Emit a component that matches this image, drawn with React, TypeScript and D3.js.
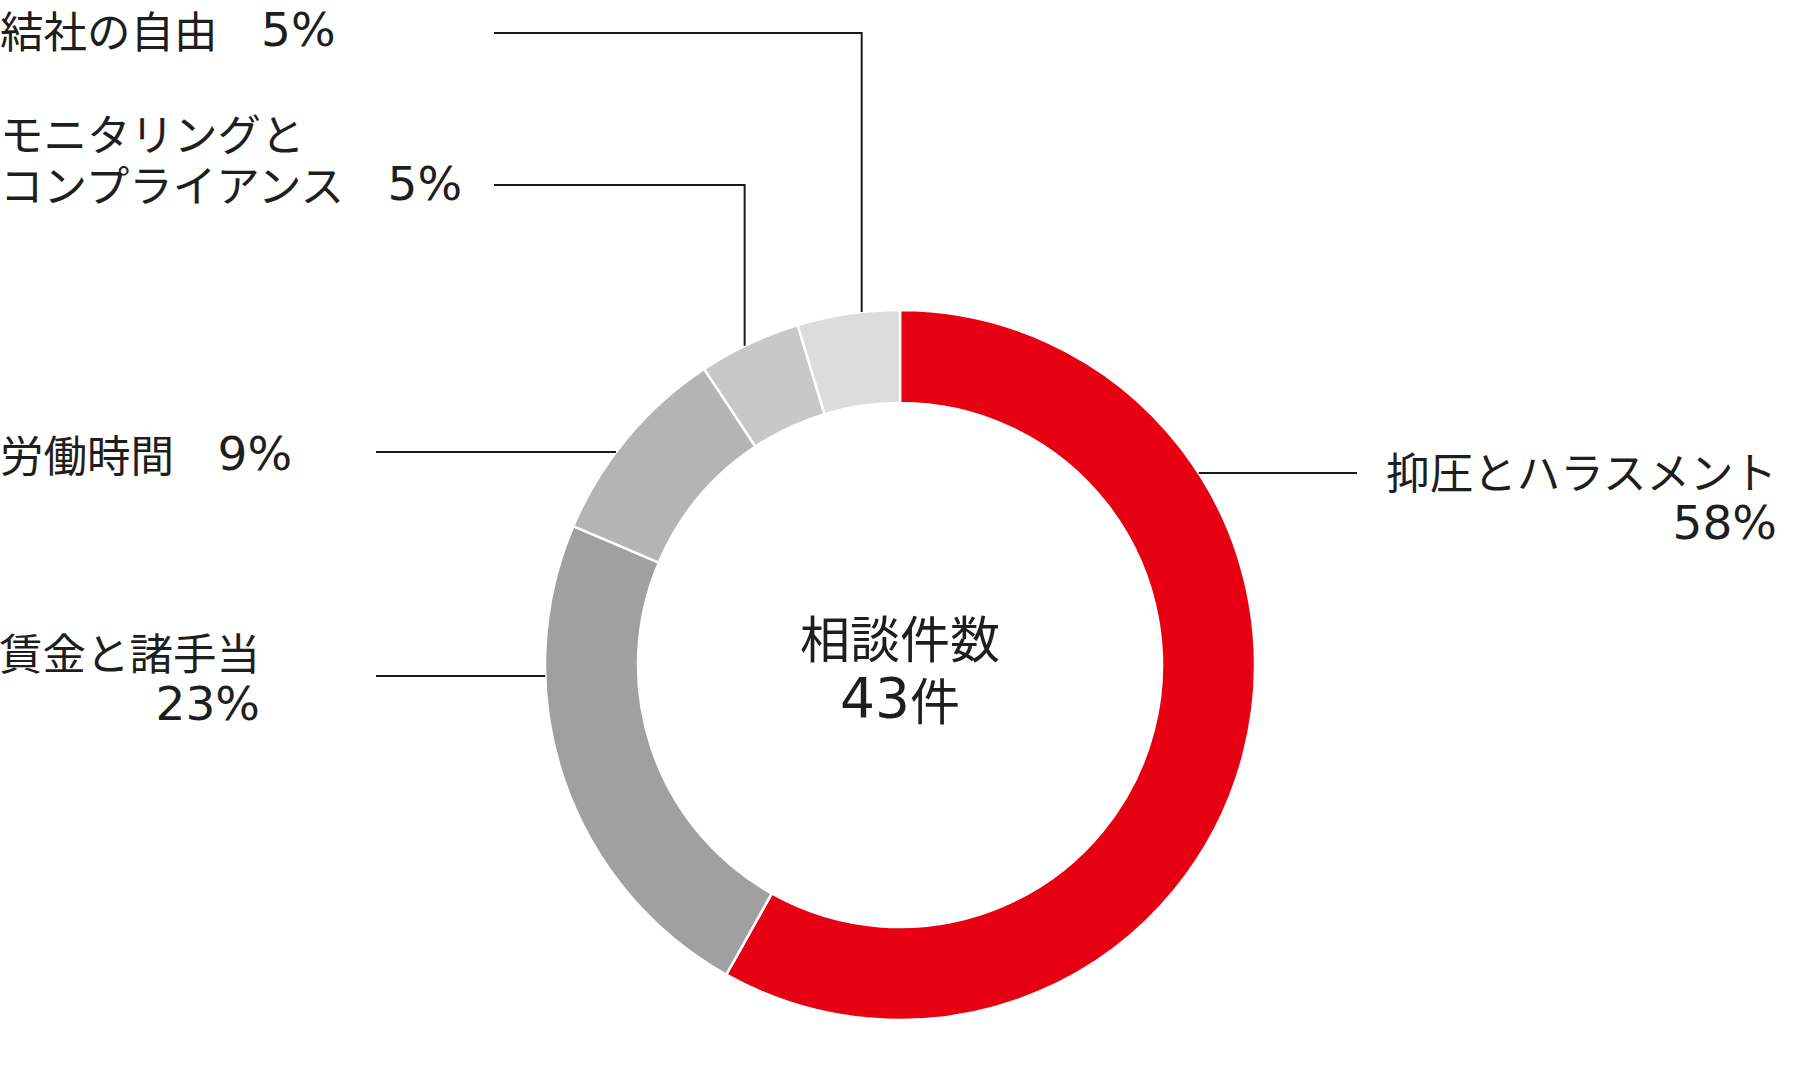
import * as d3 from "d3";
import React from "react";

// 相談件数の内訳（件数）
const categories = ["抑圧とハラスメント", "賃金と諸手当", "労働時間", "モニタリングとコンプライアンス", "結社の自由"];
const counts = [25, 10, 4, 2, 2];
const percents = ["58%", "23%", "9%", "5%", "5%"];
const colors = ["#e60012", "#a0a0a0", "#b4b4b4", "#c8c8c8", "#dcdcdc"];
const centerTitle = "相談件数";
const centerTotal = `${d3.sum(counts)}件`;

const W = 1800;
const H = 1080;
const cx = 900;
const cy = 665;
const outerR = 355;
const innerR = 262;
const fontSize = 43.5;
const font = "'Noto Sans CJK JP', 'Noto Sans', sans-serif";
const numFont = "'DejaVu Sans', sans-serif";
const SP = "\u3000";

type Label = {
  lines: string[];
  x: number;
  ys: number[];
  anchor: "start" | "end";
  lineY: number;
  lineX: number; // free end of the leader
  at?: number; // where along the slice the leader drops onto the ring
};

const labels: Label[] = [
  { lines: [categories[0], percents[0]], x: 1777, ys: [470, 522], anchor: "end", lineY: 473, lineX: 1357 },
  { lines: ["賃金と諸手当", percents[1]], x: 260, ys: [651, 703], anchor: "end", lineY: 676, lineX: 376 },
  { lines: [categories[2] + SP + percents[2]], x: 0, ys: [453], anchor: "start", lineY: 452, lineX: 376 },
  { lines: ["モニタリングと", "コンプライアンス" + SP + percents[3]], x: 0, ys: [132, 183], anchor: "start", lineY: 185, lineX: 494, at: 0.45 },
  { lines: [categories[4] + SP + percents[4]], x: 0, ys: [29], anchor: "start", lineY: 33, lineX: 494, at: 0.63 },
];

// digits and % are set in a wider face, like the original
function richText(t: string, numSize: number) {
  return t.split(/(\d+%?)/).filter(Boolean).map((s, k) =>
    /\d/.test(s) ? (
      <tspan key={k} fontFamily={numFont} fontSize={numSize}>
        {s}
      </tspan>
    ) : (
      <tspan key={k}>{s}</tspan>
    )
  );
}

export default function App() {
  const pie = d3
    .pie<number>()
    .sort(null)
    .startAngle(0)
    .endAngle(2 * Math.PI)
    .value((d) => d);
  const arcs = pie(counts);
  const arc = d3.arc<d3.PieArcDatum<number>>().innerRadius(innerR).outerRadius(outerR);

  const leader = (i: number) => {
    const L = labels[i];
    const a = arcs[i];
    if (L.at !== undefined) {
      const ang = a.startAngle + L.at * (a.endAngle - a.startAngle);
      const ex = cx + outerR * Math.sin(ang);
      const ey = cy - outerR * Math.cos(ang);
      return `M${L.lineX},${L.lineY}H${ex}V${ey}`;
    }
    const dy = L.lineY - cy;
    const dx = Math.sqrt(outerR * outerR - dy * dy);
    const side = L.lineX > cx ? 1 : -1;
    return `M${L.lineX},${L.lineY}H${cx + side * dx}`;
  };

  return (
    <svg
      width={W}
      height={H}
      style={{ position: "absolute", left: 0, top: 0, background: "#fff" }}
      fontFamily={font}
    >
      <g transform={`translate(${cx},${cy})`}>
        {arcs.map((a, i) => (
          <path key={categories[i]} d={arc(a) ?? ""} fill={colors[i]} stroke="#fff" strokeWidth={2.5} />
        ))}
      </g>
      {labels.map((L, i) => (
        <g key={i}>
          <path d={leader(i)} fill="none" stroke="#1a1a1a" strokeWidth={2} />
          {L.lines.map((t, j) => (
            <text
              key={j}
              x={L.x}
              y={L.ys[j]}
              textAnchor={L.anchor}
              dominantBaseline="central"
              fontSize={fontSize}
              fill="#1e1e1e"
            >
              {richText(t, 47)}
            </text>
          ))}
        </g>
      ))}
      <text x={cx} y={636} textAnchor="middle" dominantBaseline="central" fontSize={50} fill="#1e1e1e">
        {centerTitle}
      </text>
      <text x={cx} y={698} textAnchor="middle" dominantBaseline="central" fontSize={50} fill="#1e1e1e">
        {richText(centerTotal, 55)}
      </text>
    </svg>
  );
}
